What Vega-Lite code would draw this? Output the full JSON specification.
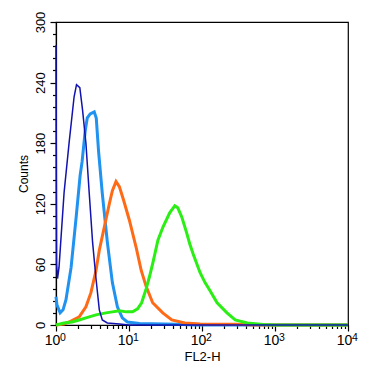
{
  "$schema": "https://vega.github.io/schema/vega-lite/v6.json",
  "autosize": "none",
  "width": 292,
  "height": 303,
  "padding": {"left": 56, "top": 22, "right": 22, "bottom": 49},
  "background": "white",
  "config": {
    "view": {"stroke": "black", "strokeWidth": 1.2},
    "font": "Liberation Sans",
    "axis": {"domainColor": "black", "tickColor": "black", "labelColor": "black", "titleColor": "black", "grid": false, "titleFontWeight": "normal"}
  },
  "datasets": {
    "curves": [
      {"s": "navy", "x": 1.0, "y": 277},
      {"s": "navy", "x": 1.02, "y": 60},
      {"s": "navy", "x": 1.049, "y": 46},
      {"s": "navy", "x": 1.10, "y": 57},
      {"s": "navy", "x": 1.29, "y": 131},
      {"s": "navy", "x": 1.51, "y": 180},
      {"s": "navy", "x": 1.77, "y": 226},
      {"s": "navy", "x": 1.91, "y": 238},
      {"s": "navy", "x": 2.12, "y": 235},
      {"s": "navy", "x": 2.31, "y": 213},
      {"s": "navy", "x": 2.57, "y": 180},
      {"s": "navy", "x": 2.85, "y": 131},
      {"s": "navy", "x": 3.17, "y": 82},
      {"s": "navy", "x": 3.53, "y": 46},
      {"s": "navy", "x": 3.92, "y": 15},
      {"s": "navy", "x": 4.31, "y": 5},
      {"s": "navy", "x": 5.05, "y": 2},
      {"s": "navy", "x": 7.4, "y": 1},
      {"s": "navy", "x": 10, "y": 0},
      {"s": "navy", "x": 10000, "y": 0},

      {"s": "light", "x": 1.0, "y": 28},
      {"s": "light", "x": 1.03, "y": 20},
      {"s": "light", "x": 1.14, "y": 12},
      {"s": "light", "x": 1.25, "y": 15},
      {"s": "light", "x": 1.37, "y": 25},
      {"s": "light", "x": 1.61, "y": 57},
      {"s": "light", "x": 1.89, "y": 107},
      {"s": "light", "x": 2.14, "y": 148},
      {"s": "light", "x": 2.28, "y": 162},
      {"s": "light", "x": 2.51, "y": 192},
      {"s": "light", "x": 2.68, "y": 205},
      {"s": "light", "x": 2.94, "y": 209},
      {"s": "light", "x": 3.34, "y": 211},
      {"s": "light", "x": 3.56, "y": 205},
      {"s": "light", "x": 3.83, "y": 172},
      {"s": "light", "x": 4.31, "y": 130},
      {"s": "light", "x": 5.05, "y": 82},
      {"s": "light", "x": 5.92, "y": 42},
      {"s": "light", "x": 6.93, "y": 18},
      {"s": "light", "x": 8.1, "y": 7},
      {"s": "light", "x": 9.5, "y": 3},
      {"s": "light", "x": 13.9, "y": 1.5},
      {"s": "light", "x": 45, "y": 0.8},
      {"s": "light", "x": 80, "y": 0},
      {"s": "light", "x": 10000, "y": 0},

      {"s": "orange", "x": 1.0, "y": 0},
      {"s": "orange", "x": 1.29, "y": 1},
      {"s": "orange", "x": 1.51, "y": 3},
      {"s": "orange", "x": 2.08, "y": 8},
      {"s": "orange", "x": 2.57, "y": 18},
      {"s": "orange", "x": 3.01, "y": 32},
      {"s": "orange", "x": 3.53, "y": 54},
      {"s": "orange", "x": 3.92, "y": 74},
      {"s": "orange", "x": 4.59, "y": 97},
      {"s": "orange", "x": 5.38, "y": 120},
      {"s": "orange", "x": 5.92, "y": 133},
      {"s": "orange", "x": 6.64, "y": 142},
      {"s": "orange", "x": 7.38, "y": 137},
      {"s": "orange", "x": 8.4, "y": 124},
      {"s": "orange", "x": 10.1, "y": 104},
      {"s": "orange", "x": 12.6, "y": 76},
      {"s": "orange", "x": 14.7, "y": 54},
      {"s": "orange", "x": 17.2, "y": 38},
      {"s": "orange", "x": 21.1, "y": 22},
      {"s": "orange", "x": 29, "y": 12},
      {"s": "orange", "x": 38.6, "y": 5},
      {"s": "orange", "x": 58, "y": 2},
      {"s": "orange", "x": 94, "y": 1},
      {"s": "orange", "x": 300, "y": 0.8},
      {"s": "orange", "x": 500, "y": 0},
      {"s": "orange", "x": 10000, "y": 0},

      {"s": "green", "x": 1.0, "y": 0},
      {"s": "green", "x": 1.29, "y": 2},
      {"s": "green", "x": 1.66, "y": 3},
      {"s": "green", "x": 2.08, "y": 5},
      {"s": "green", "x": 2.57, "y": 7},
      {"s": "green", "x": 3.53, "y": 10},
      {"s": "green", "x": 4.85, "y": 12},
      {"s": "green", "x": 5.92, "y": 13},
      {"s": "green", "x": 7.38, "y": 14},
      {"s": "green", "x": 9.2, "y": 13},
      {"s": "green", "x": 11.2, "y": 13},
      {"s": "green", "x": 13.1, "y": 16},
      {"s": "green", "x": 14.9, "y": 22},
      {"s": "green", "x": 17.2, "y": 36},
      {"s": "green", "x": 19.1, "y": 48},
      {"s": "green", "x": 21.3, "y": 62},
      {"s": "green", "x": 24.9, "y": 84},
      {"s": "green", "x": 29.2, "y": 97},
      {"s": "green", "x": 36.1, "y": 111},
      {"s": "green", "x": 42.4, "y": 118},
      {"s": "green", "x": 46.6, "y": 116},
      {"s": "green", "x": 52.8, "y": 107},
      {"s": "green", "x": 61.2, "y": 92},
      {"s": "green", "x": 68.2, "y": 80},
      {"s": "green", "x": 75.9, "y": 70},
      {"s": "green", "x": 93.9, "y": 52},
      {"s": "green", "x": 110, "y": 42},
      {"s": "green", "x": 129, "y": 34},
      {"s": "green", "x": 161, "y": 22},
      {"s": "green", "x": 220, "y": 12},
      {"s": "green", "x": 285, "y": 5},
      {"s": "green", "x": 418, "y": 2},
      {"s": "green", "x": 690, "y": 0.5},
      {"s": "green", "x": 1000, "y": 0},
      {"s": "green", "x": 10000, "y": 0}
    ],
    "exps": [
      {"x": 1, "e": "0"},
      {"x": 10, "e": "1"},
      {"x": 100, "e": "2"},
      {"x": 1000, "e": "3"},
      {"x": 10000, "e": "4"}
    ]
  },
  "layer": [
    {
      "data": {"name": "curves"},
      "encoding": {
        "x": {
          "field": "x", "type": "quantitative",
          "scale": {"type": "log", "domain": [1, 10000], "nice": false},
          "axis": {
            "title": "FL2-H", "titleFontSize": 13, "titlePadding": 3,
            "values": [1,2,3,4,5,6,7,8,9,10,20,30,40,50,60,70,80,90,100,200,300,400,500,600,700,800,900,1000,2000,3000,4000,5000,6000,7000,8000,9000,10000],
            "labelExpr": "indexof([1,10,100,1000,10000], datum.value) >= 0 ? '10' : ''",
            "labelFontSize": 14, "labelPadding": 2, "labelOffset": -4, "labelFlush": false, "labelOverlap": false,
            "tickSize": {"condition": {"test": "indexof([1,10,100,1000,10000], datum.value) >= 0", "value": 6}, "value": 3.5},
            "tickWidth": 1.2, "domainWidth": 1.2
          }
        },
        "y": {
          "field": "y", "type": "quantitative",
          "scale": {"domain": [0, 300], "nice": false},
          "axis": {
            "title": "Counts", "titleFontSize": 12, "titlePadding": 4,
            "values": [0,12,24,36,48,60,72,84,96,108,120,132,144,156,168,180,192,204,216,228,240,252,264,276,288,300],
            "labelExpr": "datum.value % 60 == 0 ? datum.label : ''",
            "labelAngle": -90, "labelAlign": "center", "labelBaseline": "bottom",
            "labelFontSize": 13, "labelPadding": 3, "labelOverlap": false, "labelFlush": false,
            "tickSize": {"condition": {"test": "datum.value % 60 == 0", "value": 6}, "value": 3.5},
            "tickWidth": 1.2, "domainWidth": 1.2
          }
        }
      },
      "layer": [
        {"transform": [{"filter": "datum.s == 'light'"}], "mark": {"type": "line", "color": "#2092f0", "strokeWidth": 3}},
        {"transform": [{"filter": "datum.s == 'orange'"}], "mark": {"type": "line", "color": "#ff6a16", "strokeWidth": 3}},
        {"transform": [{"filter": "datum.s == 'green'"}], "mark": {"type": "line", "color": "#2aee14", "strokeWidth": 3}},
        {"transform": [{"filter": "datum.s == 'navy'"}], "mark": {"type": "line", "color": "#1212b0", "strokeWidth": 1.5}}
      ]
    },
    {
      "data": {"name": "exps"},
      "mark": {"type": "text", "align": "left", "baseline": "middle", "dx": 4, "dy": 13, "fontSize": 10.5, "fill": "black"},
      "encoding": {
        "x": {
          "field": "x", "type": "quantitative",
          "axis": {
            "title": "FL2-H", "titleFontSize": 13, "titlePadding": 3,
            "values": [1,2,3,4,5,6,7,8,9,10,20,30,40,50,60,70,80,90,100,200,300,400,500,600,700,800,900,1000,2000,3000,4000,5000,6000,7000,8000,9000,10000],
            "labelExpr": "indexof([1,10,100,1000,10000], datum.value) >= 0 ? '10' : ''",
            "labelFontSize": 14, "labelPadding": 2, "labelOffset": -4, "labelFlush": false, "labelOverlap": false,
            "tickSize": {"condition": {"test": "indexof([1,10,100,1000,10000], datum.value) >= 0", "value": 6}, "value": 3.5},
            "tickWidth": 1.2, "domainWidth": 1.2
          }
        },
        "y": {
          "datum": 0, "type": "quantitative",
          "axis": {
            "title": "Counts", "titleFontSize": 12, "titlePadding": 4,
            "values": [0,12,24,36,48,60,72,84,96,108,120,132,144,156,168,180,192,204,216,228,240,252,264,276,288,300],
            "labelExpr": "datum.value % 60 == 0 ? datum.label : ''",
            "labelAngle": -90, "labelAlign": "center", "labelBaseline": "bottom",
            "labelFontSize": 13, "labelPadding": 3, "labelOverlap": false, "labelFlush": false,
            "tickSize": {"condition": {"test": "datum.value % 60 == 0", "value": 6}, "value": 3.5},
            "tickWidth": 1.2, "domainWidth": 1.2
          }
        },
        "text": {"field": "e", "type": "nominal"}
      }
    }
  ]
}
